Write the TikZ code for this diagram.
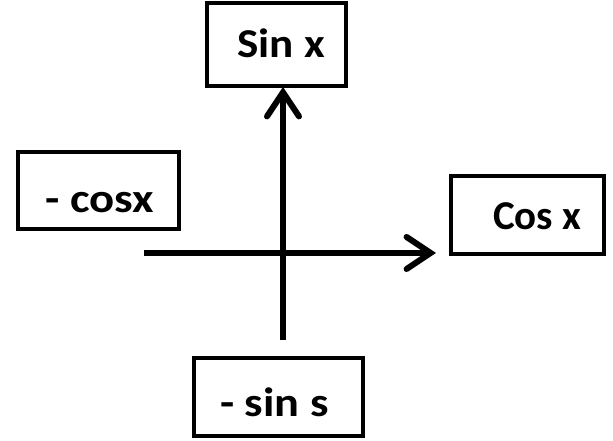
\documentclass[tikz,border=0pt]{standalone}
\usepackage{fontspec}
\setmainfont{Carlito}
\usetikzlibrary{arrows.meta,calc}

\tikzset{
  valbox/.style={draw=black, line width=4pt, inner sep=0pt, fill=white},
  valtext/.style={anchor=base west, inner sep=0pt,
    font=\bfseries\fontsize{41}{49}\selectfont},
  axis/.style={line width=6pt,
    -{Straight Barb[length=24pt,width=32pt,line cap=round,line join=miter]}},
}
\newcommand{\widetext}[2]{\scalebox{#1}[1]{#2}}

\begin{document}
\begin{tikzpicture}[x=1pt,y=1pt]
  \useasboundingbox (0,0) rectangle (613,441);

  % boxes
  \node[valbox, minimum width=139pt, minimum height=82.5pt] (sinx)   at (276.5,396.25) {};
  \node[valbox, minimum width=161pt, minimum height=76.5pt] (mcosx)  at (98.5,250.25) {};
  \node[valbox, minimum width=153pt, minimum height=78pt]   (cosx)   at (527,226) {};
  \node[valbox, minimum width=169pt, minimum height=78pt]   (msins)  at (278,43.5) {};

  % labels
  \node[valtext] (sinxtext)  at (237,383) {\widetext{1.10}{Sin x}};
  \node[valtext] (mcosxtext) at (45,228)  {\widetext{1.14}{- cosx}};
  \node[valtext] (cosxtext)  at (493,211) {Cos x};
  \node[valtext] (msinstext) at (220,24)  {\widetext{1.13}{- sin s}};

  % axes
  \coordinate (vbot)   at (283,101);
  \coordinate (hleft)  at (144,188);
  \coordinate (hright) at (436,188);
  \draw[axis] (vbot) -- ([yshift=1pt]sinx.south -| vbot);
  \draw[axis] (hleft) -- (hright);
\end{tikzpicture}
\end{document}
